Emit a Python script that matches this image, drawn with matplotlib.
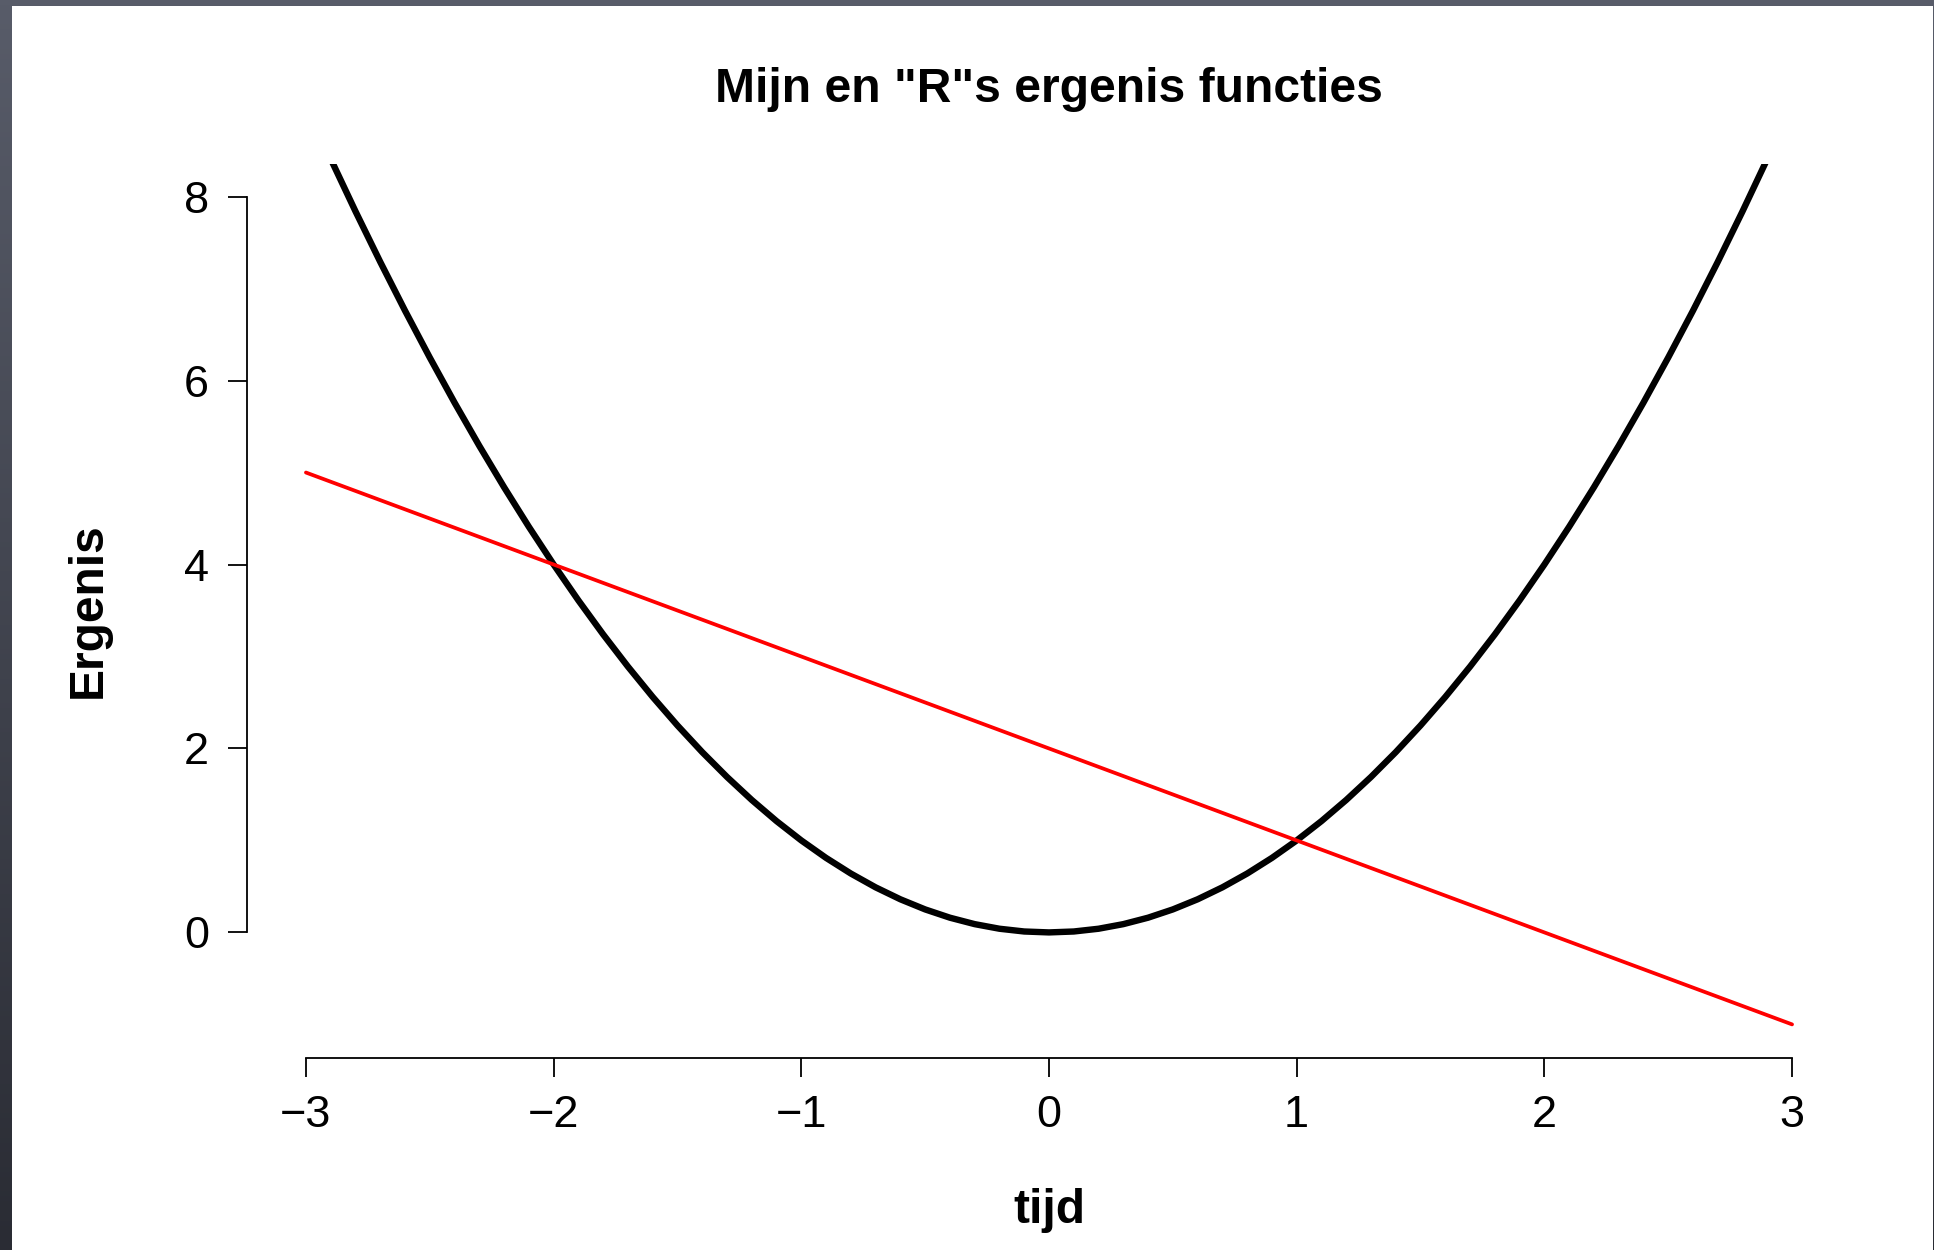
import numpy as np
import matplotlib
matplotlib.use("Agg")
import matplotlib.pyplot as plt
from matplotlib.patches import Rectangle

# Tijd-as en de twee ergenis-functies
tijd = [-3.0, -2.9, -2.8, -2.7, -2.6, -2.5, -2.4, -2.3, -2.2, -2.1,
        -2.0, -1.9, -1.8, -1.7, -1.6, -1.5, -1.4, -1.3, -1.2, -1.1,
        -1.0, -0.9, -0.8, -0.7, -0.6, -0.5, -0.4, -0.3, -0.2, -0.1,
        0.0, 0.1, 0.2, 0.3, 0.4, 0.5, 0.6, 0.7, 0.8, 0.9,
        1.0, 1.1, 1.2, 1.3, 1.4, 1.5, 1.6, 1.7, 1.8, 1.9,
        2.0, 2.1, 2.2, 2.3, 2.4, 2.5, 2.6, 2.7, 2.8, 2.9, 3.0]
mijn_ergenis = [9.00, 8.41, 7.84, 7.29, 6.76, 6.25, 5.76, 5.29, 4.84, 4.41,
                4.00, 3.61, 3.24, 2.89, 2.56, 2.25, 1.96, 1.69, 1.44, 1.21,
                1.00, 0.81, 0.64, 0.49, 0.36, 0.25, 0.16, 0.09, 0.04, 0.01,
                0.00, 0.01, 0.04, 0.09, 0.16, 0.25, 0.36, 0.49, 0.64, 0.81,
                1.00, 1.21, 1.44, 1.69, 1.96, 2.25, 2.56, 2.89, 3.24, 3.61,
                4.00, 4.41, 4.84, 5.29, 5.76, 6.25, 6.76, 7.29, 7.84, 8.41, 9.00]
r_tijd = [-3.0, 3.0]
r_ergenis = [5.0, -1.0]

x_ticks = [-3, -2, -1, 0, 1, 2, 3]
y_ticks = [0, 2, 4, 6, 8]
x_limits = (-3.0, 3.0)
y_limits = (-1.0, 8.0)

titel = 'Mijn en "R"s ergenis functies'
x_label = "tijd"
y_label = "Ergenis"

FONT = "Liberation Sans"
W, H = 1934, 1250
fig = plt.figure(figsize=(W / 100, H / 100), dpi=100)

# donkere rand rondom het witte vlak
bg = fig.add_axes([0, 0, 1, 1], zorder=-10)
grad = np.linspace(0, 1, 256).reshape(-1, 1)
top_col = np.array([0x58, 0x5c, 0x69]) / 255
bot_col = np.array([0x2a, 0x2c, 0x34]) / 255
img = top_col[None, None, :] * (1 - grad[:, :, None]) + bot_col[None, None, :] * grad[:, :, None]
bg.imshow(img, aspect="auto", extent=[0, W, H, 0])
bg.add_patch(Rectangle((12, 6), W - 1 - 12, H - 6, facecolor="white", edgecolor="none"))
bg.set_xlim(0, W)
bg.set_ylim(H, 0)
bg.axis("off")

# R-stijl: 4% extra ruimte rond het databereik
def ext(lo, hi):
    d = (hi - lo) * 0.04
    return lo - d, hi + d

xl = ext(*x_limits)
yl = ext(*y_limits)

left_px, right_px = 246.5, 1851.5
top_px, bot_px = 163.5, 1057.5
ax = fig.add_axes([left_px / W, 1 - bot_px / H, (right_px - left_px) / W, (bot_px - top_px) / H])
ax.patch.set_alpha(0)

ax.plot(tijd, mijn_ergenis, color="black", lw=4.6, solid_capstyle="round")
ax.plot(r_tijd, r_ergenis, color="#ff0000", lw=2.7, solid_capstyle="round")

ax.set_xlim(*xl)
ax.set_ylim(*yl)

for s in ("top", "right"):
    ax.spines[s].set_visible(False)
ax.spines["bottom"].set_bounds(x_ticks[0], x_ticks[-1])
ax.spines["left"].set_bounds(y_ticks[0], y_ticks[-1])
for s in ("bottom", "left"):
    ax.spines[s].set_linewidth(1.3)
    ax.spines[s].set_color("black")

ax.set_xticks(x_ticks)
ax.set_yticks(y_ticks)
ax.set_xticklabels([f"{v}".replace("-", "\u2212") for v in x_ticks])
ax.set_yticklabels([f"{v}" for v in y_ticks])
ax.tick_params(axis="both", length=14, width=1.3, color="black", labelsize=32.5, pad=13)
for lab in ax.get_xticklabels() + ax.get_yticklabels():
    lab.set_fontfamily(FONT)

fig.text(1049 / W, 1 - 102 / H, titel, ha="center", va="baseline",
         fontsize=34.6, fontweight="bold", family=FONT)
fig.text(1049 / W, 1 - 1223 / H, x_label, ha="center", va="baseline",
         fontsize=34.5, fontweight="bold", family=FONT)
fig.text(66 / W, 1 - 610.5 / H, y_label, ha="left", va="center", rotation=90,
         fontsize=34.5, fontweight="bold", family=FONT)

fig.savefig("out.png", dpi=100)
